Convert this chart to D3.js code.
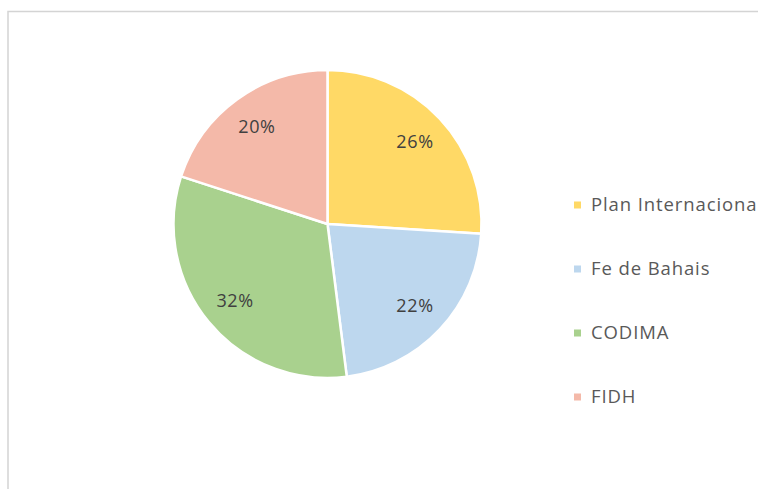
<!DOCTYPE html>
<html><head><meta charset="utf-8">
<script src="https://cdn.jsdelivr.net/npm/d3@7"></script>
<style>html,body{margin:0;padding:0;background:#fff;overflow:hidden}</style>
</head><body>
<svg id="c" width="758" height="489"></svg>
<script>
const categories = ["Plan Internacional", "Fe de Bahais", "CODIMA", "FIDH"];
const values = [26, 22, 32, 20];
const colors = ["#FFD966", "#BDD7EE", "#A9D18E", "#F4B9A9"];

const svg = d3.select("#c");
const font = "'Open Sans', sans-serif";

// chart border
svg.append("rect").attr("x", 8).attr("y", 11.5).attr("width", 800).attr("height", 520)
  .attr("fill", "#fff").attr("stroke", "#d4d4d4").attr("stroke-width", 1.5);

const cx = 327.5, cy = 224, R = 154;
const pie = d3.pie().sort(null).value(d => d.v);
const data = pie(categories.map((c, i) => ({c, v: values[i], col: colors[i]})));
const arc = d3.arc().innerRadius(0).outerRadius(R);
const labelArc = d3.arc().innerRadius(120).outerRadius(120);

const g = svg.append("g").attr("transform", `translate(${cx},${cy})`);
g.selectAll("path").data(data).join("path")
  .attr("d", arc).attr("fill", d => d.data.col)
  .attr("stroke", "#fff").attr("stroke-width", 2.5).attr("stroke-linejoin", "round");

const total = d3.sum(values);
g.selectAll("text").data(data).join("text")
  .attr("transform", d => `translate(${labelArc.centroid(d)})`)
  .attr("text-anchor", "middle").attr("dy", "0.35em")
  .attr("font-family", font).attr("font-size", 18).attr("letter-spacing", 0.6)
  .attr("fill", "#404040")
  .text(d => Math.round(d.data.v / total * 100) + "%");

const legendY = d3.scalePoint().domain(categories).range([205, 397]);
const lg = svg.append("g");
categories.forEach((c, i) => {
  const y = legendY(c);
  lg.append("rect").attr("x", 574).attr("y", y - 3.5).attr("width", 7).attr("height", 7).attr("fill", colors[i]);
  lg.append("text").attr("x", 591).attr("y", y).attr("dy", "0.35em")
    .attr("font-family", font).attr("font-size", 18.5).attr("letter-spacing", 0.9)
    .attr("fill", "#595959").text(c);
});
</script>
</body></html>
